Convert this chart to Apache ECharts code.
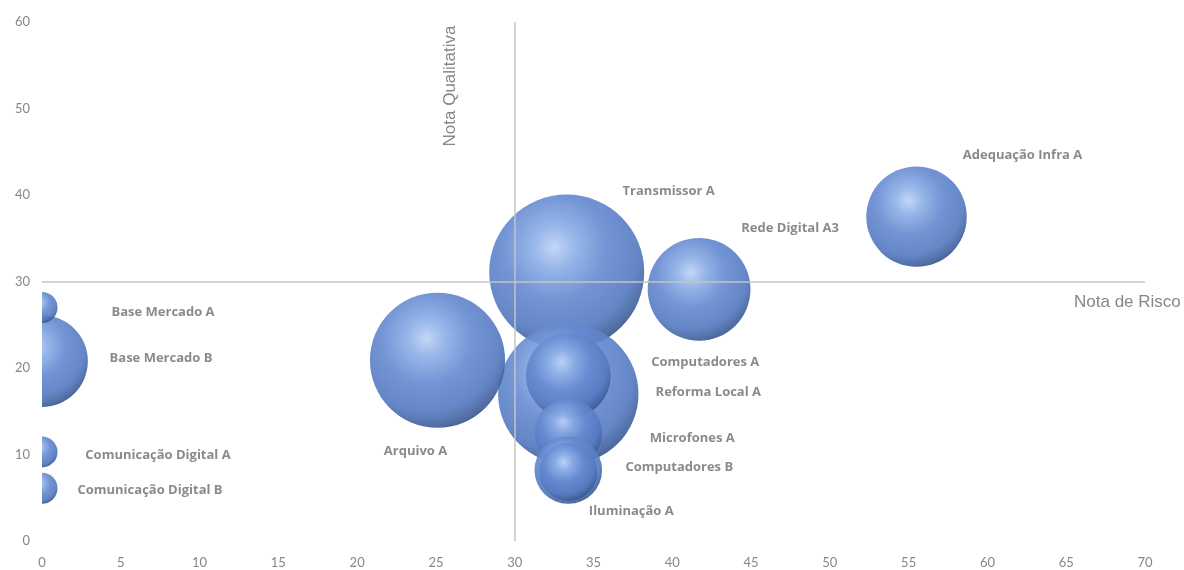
<!DOCTYPE html>
<html>
<head>
<meta charset="utf-8">
<script src="https://cdn.jsdelivr.net/npm/echarts@6/dist/echarts.min.js"></script>
<style>
  html, body { margin: 0; padding: 0; background: #fff; }
  #chart { width: 1184px; height: 570px; }
</style>
</head>
<body>
<div id="chart"></div>
<script>
// dados (ordem = ordem de desenho, maiores atras)
var nomes = ['Transmissor A', 'Reforma Local A', 'Arquivo A', 'Rede Digital A3', 'Adequação Infra A',
             'Base Mercado B', 'Computadores A', 'Microfones A', 'Computadores B', 'Iluminação A',
             'Base Mercado A', 'Comunicação Digital A', 'Comunicação Digital B'];
var notaRisco = [33.3, 33.4, 25.1, 41.7, 55.5, 0, 33.4, 33.4, 33.4, 33.4, 0, 0, 0];
var notaQualitativa = [31.1, 17.0, 20.9, 29.1, 37.5, 20.8, 19.1, 12.5, 8.2, 8.0, 27.0, 10.3, 6.1];
var peso = [100, 82, 76, 44, 42, 35, 30, 19, 19, 14, 4, 4, 4];

var xTicks = { min: 0, max: 70, interval: 5 };
var yTicks = { min: 0, max: 60, interval: 10 };

// layout dos rotulos (deslocamento em px do centro da bolha)
var labelOffsets = [[102, -81], [140, -2], [-22, 91], [91, -61], [106, -61],
                    [119, -3], [137, -13], [124, 5], [111, -3], [63, 39],
                    [121, 5], [116, 3], [108, 2]];

var grey = '#878787';

var bolha = {
    type: 'radial', x: 0.42, y: 0.34, r: 0.7,
    colorStops: [
        { offset: 0, color: '#bdd3f6' },
        { offset: 0.2, color: '#8badE6' },
        { offset: 0.48, color: '#6489d0' },
        { offset: 0.78, color: '#5479c0' },
        { offset: 0.93, color: '#3d5e9a' },
        { offset: 1, color: '#2d4777' }
    ]
};

var dados = [];
for (var i = 0; i < nomes.length; i++) {
    dados.push({ name: nomes[i], value: [notaRisco[i], notaQualitativa[i], peso[i]] });
}

var chart = echarts.init(document.getElementById('chart'));
chart.setOption({
    animation: false,
    backgroundColor: '#fff',
    grid: { left: 42, right: 39, top: 22, bottom: 29, containLabel: false },
    xAxis: {
        type: 'value', min: xTicks.min, max: xTicks.max, interval: xTicks.interval, z: 10,
        axisLine: { show: false }, axisTick: { show: false }, splitLine: { show: false },
        axisLabel: { color: grey, fontFamily: 'Lato', fontSize: 13, margin: 15 }
    },
    yAxis: {
        type: 'value', min: yTicks.min, max: yTicks.max, interval: yTicks.interval, z: 10,
        axisLine: { show: false }, axisTick: { show: false }, splitLine: { show: false },
        axisLabel: { color: grey, fontFamily: 'Lato', fontSize: 13, margin: 12 }
    },
    graphic: [
        {
            // esconde a metade das bolhas fora da area do grafico (x < 0)
            type: 'rect', z: 5, silent: true,
            shape: { x: 0, y: 0, width: 42, height: 570 },
            style: { fill: '#fff' }
        },
        {
            type: 'text', x: 450, y: 86, rotation: Math.PI / 2, z: 6,
            style: { text: 'Nota Qualitativa', fill: grey, font: '17px "Liberation Sans"',
                     textAlign: 'center', textVerticalAlign: 'middle' }
        },
        {
            type: 'text', x: 1074, y: 302, z: 6,
            style: { text: 'Nota de Risco', fill: grey, font: '17px "Liberation Sans"',
                     textAlign: 'left', textVerticalAlign: 'middle' }
        }
    ],
    series: [
        {
            type: 'scatter', data: [], z: 1, silent: true,
            markLine: {
                silent: true, symbol: 'none', animation: false,
                label: { show: false },
                lineStyle: { color: '#c4c4c4', width: 1.5, type: 'solid' },
                data: [{ xAxis: 30 }, { yAxis: 30 }]
            }
        },
        {
            type: 'scatter', z: 2,
            data: dados,
            symbolSize: function (v) { return Math.sqrt(v[2]) * 15.5; },
            itemStyle: { color: bolha, opacity: 0.9 },
            label: {
                show: true, position: 'inside', formatter: '{b}',
                color: '#7d7d7d', fontFamily: 'Open Sans', fontWeight: 'bold', fontSize: 13
            },
            labelLayout: function (p) {
                var o = labelOffsets[p.dataIndex];
                return { dx: o[0], dy: o[1], hideOverlap: false };
            }
        }
    ]
});
</script>
</body>
</html>
